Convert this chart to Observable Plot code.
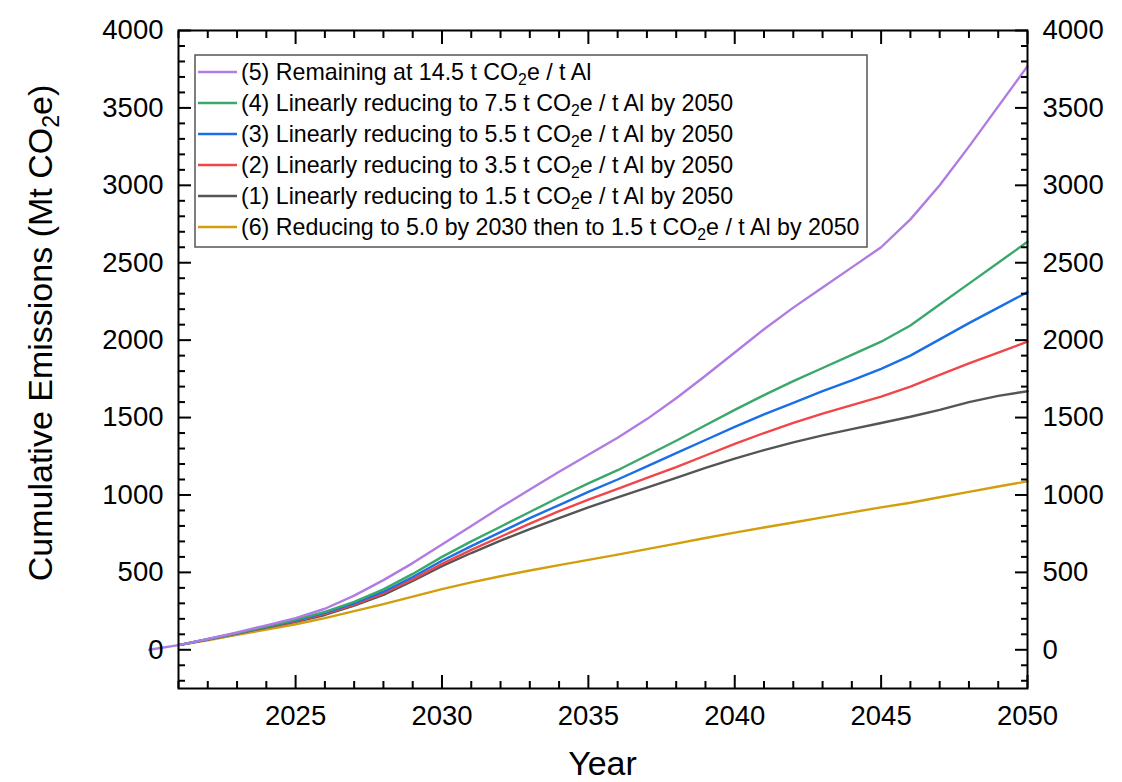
<!DOCTYPE html>
<html><head><meta charset="utf-8">
<script src="https://cdn.jsdelivr.net/npm/d3@7"></script>
<script src="https://cdn.jsdelivr.net/npm/@observablehq/plot@0.6"></script>
<style>
body{margin:0;background:#fff;}
#chart{position:relative;width:1122px;height:782px;}
</style>
</head><body><div id="chart"></div>
<script>
// ---- data ----
const years = [2021,2022,2023,2024,2025,2026,2027,2028,2029,2030,2031,2032,2033,2034,2035,2036,2037,2038,2039,2040,2041,2042,2043,2044,2045,2046,2047,2048,2049,2050];
const years5 = [2020,2021,2022,2023,2024,2025,2026,2027,2028,2029,2030,2031,2032,2033,2034,2035,2036,2037,2038,2039,2040,2041,2042,2043,2044,2045,2046,2047,2048,2049,2050];
const s5 = [0,30,70,112,158,205,265,350,450,560,680,800,920,1035,1150,1260,1370,1490,1625,1770,1920,2070,2210,2340,2470,2600,2780,3000,3250,3510,3770];
const s4 = [30,68,108,150,195,245,310,390,490,600,700,795,890,985,1075,1160,1255,1350,1450,1550,1645,1735,1820,1905,1990,2095,2230,2365,2500,2635];
const s3 = [30,68,107,148,190,238,300,375,470,575,670,760,850,935,1020,1100,1185,1270,1355,1440,1520,1595,1670,1740,1815,1900,2005,2110,2210,2310];
const s2 = [30,67,106,146,185,232,292,365,455,555,645,730,815,895,970,1040,1110,1180,1255,1330,1400,1465,1525,1580,1635,1700,1775,1850,1920,1990];
const s1 = [30,66,105,144,180,225,285,355,445,540,625,705,780,850,920,985,1048,1110,1175,1235,1290,1340,1385,1425,1465,1505,1550,1600,1640,1670];
const s6 = [30,62,96,130,165,205,250,295,343,392,435,475,512,547,581,615,650,686,722,757,790,822,855,888,920,950,985,1020,1055,1088];

const legendLabels = [
  ["(5) Remaining at 14.5 t CO", "e / t Al"],
  ["(4) Linearly reducing to 7.5 t CO", "e / t Al by 2050"],
  ["(3) Linearly reducing to 5.5 t CO", "e / t Al by 2050"],
  ["(2) Linearly reducing to 3.5 t CO", "e / t Al by 2050"],
  ["(1) Linearly reducing to 1.5 t CO", "e / t Al by 2050"],
  ["(6) Reducing to 5.0 by 2030 then to 1.5 t CO", "e / t Al by 2050"]
];
const colors = ["#b07be2", "#3aa86a", "#1b6fe6", "#f0464a", "#555555", "#d29f0c"];
const majorX = [2025,2030,2035,2040,2045,2050];
const minorX = [2021,2022,2023,2024,2026,2027,2028,2029,2031,2032,2033,2034,2036,2037,2038,2039,2041,2042,2043,2044,2046,2047,2048,2049];
const majorY = [0,500,1000,1500,2000,2500,3000,3500,4000];
const minorY = [-200,-100,100,200,300,400,600,700,800,900,1100,1200,1300,1400,1600,1700,1800,1900,2100,2200,2300,2400,2600,2700,2800,2900,3100,3200,3300,3400,3600,3700,3800,3900];

// ---- tables ----
const seriesDefs = [
  {name:"(5)", x: years5, v: s5, color: colors[0]},
  {name:"(4)", x: years, v: s4, color: colors[1]},
  {name:"(3)", x: years, v: s3, color: colors[2]},
  {name:"(2)", x: years, v: s2, color: colors[3]},
  {name:"(1)", x: years, v: s1, color: colors[4]},
  {name:"(6)", x: years, v: s6, color: colors[5]}
];
const toRows = s => s.x.map((yr,i)=>({year: yr, value: s.v[i]}));
const drawOrder = [5,4,3,2,1,0];

const W = 1122, H = 782, mL = 178, mR = 95, mT = 30, mB = 94;
const tickStyle = {strokeWidth: 2, label: null, fill: "none"};

const plot = Plot.plot({
  width: W, height: H,
  marginLeft: mL, marginRight: mR, marginTop: mT, marginBottom: mB,
  style: {fontFamily: "'Liberation Sans', Arial, sans-serif", fontSize: "27.5px", color: "black", background: "white"},
  x: {domain: [2021, 2050]},
  y: {domain: [-250, 4000]},
  marks: [
    ...drawOrder.map(k => Plot.line(toRows(seriesDefs[k]), {x: "year", y: "value", stroke: seriesDefs[k].color, strokeWidth: 2.4})),
    Plot.frame({stroke: "black", strokeWidth: 2}),
    // x labels
    Plot.axisX({anchor: "bottom", ticks: majorX, tickSize: 0, tickPadding: 17, tickFormat: d => String(d), label: null}),
    // x ticks (inward), bottom & top
    Plot.axisX({anchor: "bottom", ticks: majorX, tickSize: -13, ...tickStyle}),
    Plot.axisX({anchor: "bottom", ticks: minorX, tickSize: -7, ...tickStyle}),
    Plot.axisX({anchor: "top", ticks: majorX, tickSize: -13, ...tickStyle}),
    Plot.axisX({anchor: "top", ticks: minorX, tickSize: -7, ...tickStyle}),
    // y labels left & right
    Plot.axisY({anchor: "left", ticks: majorY, tickSize: 0, tickPadding: 15, tickFormat: d => String(d), label: null}),
    Plot.axisY({anchor: "right", ticks: majorY, tickSize: 0, tickPadding: 15, tickFormat: d => String(d), label: null}),
    // y ticks (inward)
    Plot.axisY({anchor: "left", ticks: majorY, tickSize: -13, ...tickStyle}),
    Plot.axisY({anchor: "left", ticks: minorY, tickSize: -7, ...tickStyle}),
    Plot.axisY({anchor: "right", ticks: majorY, tickSize: -13, ...tickStyle}),
    Plot.axisY({anchor: "right", ticks: minorY, tickSize: -7, ...tickStyle})
  ]
});
document.getElementById("chart").appendChild(plot);

// ---- titles & legend ----
const svg = d3.select(plot);
const font = "'Liberation Sans', Arial, sans-serif";

function subText(g, parts, size, anchor) {
  const t = g.append("text").attr("font-family", font).attr("font-size", size)
    .attr("fill", "black").attr("text-anchor", anchor);
  t.append("tspan").text(parts[0]);
  t.append("tspan").attr("font-size", size * 0.68).attr("dy", size * 0.22).text("2");
  t.append("tspan").attr("dy", -size * 0.22).text(parts[1]);
  return t;
}

// x label
svg.append("text").attr("x", mL + (W - mL - mR) / 2).attr("y", 775)
  .attr("text-anchor", "middle").attr("font-family", font).attr("font-size", 34).text("Year");

// y label
const yl = svg.append("g").attr("transform", "translate(52,333) rotate(-90)");
subText(yl, ["Cumulative Emissions (Mt CO", "e)"], 34, "middle");

// legend
const lg = svg.append("g");
const lx = 195, ly = 55, lw = 672, lh = 192, rowH = 31, fs = 23.2;
lg.append("rect").attr("x", lx).attr("y", ly).attr("width", lw).attr("height", lh)
  .attr("fill", "white").attr("stroke", "#555").attr("stroke-width", 1.5);
legendLabels.forEach((parts, i) => {
  const cy = ly + 17 + i * rowH;
  lg.append("line").attr("x1", lx + 3).attr("x2", lx + 42).attr("y1", cy).attr("y2", cy)
    .attr("stroke", colors[i]).attr("stroke-width", 2.4);
  subText(lg, parts, fs, "start").attr("x", lx + 46).attr("y", cy + 8);
});
</script>
</body></html>
